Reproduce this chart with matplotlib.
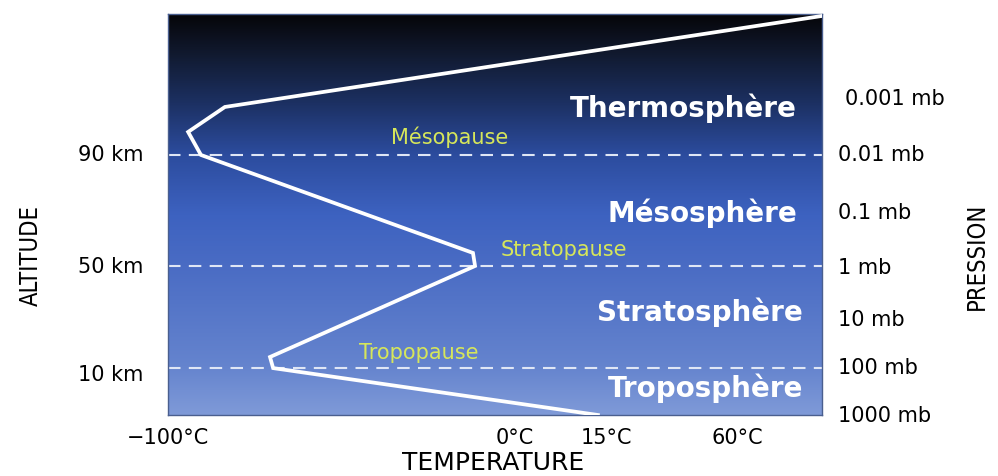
import matplotlib
matplotlib.use('Agg')
import matplotlib.pyplot as plt
from matplotlib.colors import LinearSegmentedColormap
import numpy as np

# ── Data (schematic temperature profile) ───────────────────────
# temperature (°C, schematic) and altitude (km, schematic)
profile_temp = [23.9, -69.7, -70.6, -11.5, -12.1, -90.5, -94.2, -83.6, 88.5]
profile_alt = [-3.7, 13.2, 17.2, 50.0, 54.7, 90.0, 98.3, 107.3, 140.1]

boundary_alt = [13.2, 50.0, 90.0]
boundary_names = ['Tropopause', 'Stratopause', 'Mésopause']

layer_names = ['Troposphère', 'Stratosphère', 'Mésosphère', 'Thermosphère']

alt_labels = ['10 km', '50 km', '90 km']
alt_label_pos = [10.7, 49.6, 90.0]

pressure_labels = ['1000 mb', '100 mb', '10 mb', '1 mb', '0.1 mb', '0.01 mb', '0.001 mb']
pressure_pos = [-4.0, 13.2, 30.5, 49.3, 69.1, 90.0, 110.2]

temp_labels = ['\u2212100°C', '0°C', '15°C', '60°C']
temp_tick_pos = [-100, 0, 26.5, 64.0]

XLIM = (-100, 88.5)
YLIM = (-3.7, 140.8)

# ── Figure ─────────────────────────────────────────────────────
fig = plt.figure(figsize=(9.98, 4.76), dpi=100)
ax = fig.add_axes([168 / 998, 1 - 415 / 476, 654 / 998, 401 / 476])
ax.set_xlim(*XLIM)
ax.set_ylim(*YLIM)

# background gradient (dark at top, light blue at bottom)
stops = [(0.0, '#7f9ad8'), (0.12, '#6584ce'), (0.37, '#4a6cc4'),
         (0.50, '#3d62c0'), (0.65, '#2c4c9e'), (0.78, '#1c3062'),
         (0.90, '#111a30'), (1.0, '#060609')]
cmap = LinearSegmentedColormap.from_list('sky', stops)
grad = np.linspace(0, 1, 256).reshape(-1, 1)
ax.imshow(grad, cmap=cmap, origin='lower', aspect='auto',
          extent=[XLIM[0], XLIM[1], YLIM[0], YLIM[1]], zorder=0)

for s in ax.spines.values():
    s.set_color('#4a5f8f')
    s.set_linewidth(1.0)

# boundaries
for a in boundary_alt:
    ax.axhline(a, color='#dfe6f5', lw=1.5, dashes=(6, 4), zorder=2)

# temperature profile
ax.plot(profile_temp, profile_alt, color='white', lw=2.7,
        solid_joinstyle='miter', zorder=3)

# layer names (right aligned inside panel)
layer_pos = [(83.0, 6.0), (83.0, 33.4), (81.3, 69.1), (81.3, 106.9)]
for name, (x, y) in zip(layer_names, layer_pos):
    ax.text(x, y, name, ha='right', va='center', color='white',
            fontsize=20, fontweight='bold', family='DejaVu Sans', zorder=4)

# pause labels
pause_pos = [(-27.7, 18.6), (14.1, 55.8), (-18.7, 96.5)]
for name, (x, y) in zip(boundary_names, pause_pos):
    ax.text(x, y, name, ha='center', va='center', color='#d6e65a',
            fontsize=15, family='DejaVu Sans', zorder=4)

# ticks
ax.set_xticks(temp_tick_pos)
ax.set_xticklabels(temp_labels, fontsize=15, family='DejaVu Sans')
ax.tick_params(axis='x', length=0, pad=9)
ax.set_yticks([])

# altitude labels (left)
ytr = ax.get_yaxis_transform()
for lab, y in zip(alt_labels, alt_label_pos):
    ax.text(-0.038, y, lab, transform=ytr, ha='right', va='center',
            fontsize=15, family='DejaVu Sans')

# pressure labels (right)
for lab, y in zip(pressure_labels, pressure_pos):
    x = 1.035 if lab == '0.001 mb' else 1.0245
    ax.text(x, y, lab, transform=ytr, ha='left', va='center',
            fontsize=15, family='DejaVu Sans')

# axis titles (narrow font)
fig.text(31 / 998, 1 - 256 / 476, 'ALTITUDE', rotation=90, ha='center', va='center',
         fontsize=17, family='DejaVu Sans', fontstretch='condensed')
fig.text(977 / 998, 1 - 256 / 476, 'PRESSION', rotation=90, ha='center', va='center',
         fontsize=17, family='DejaVu Sans', fontstretch='condensed')
fig.text(493 / 998, 1 - 463 / 476, 'TEMPERATURE', ha='center', va='center',
         fontsize=18, family='DejaVu Sans')

fig.savefig('out.png', dpi=100, facecolor='white')
